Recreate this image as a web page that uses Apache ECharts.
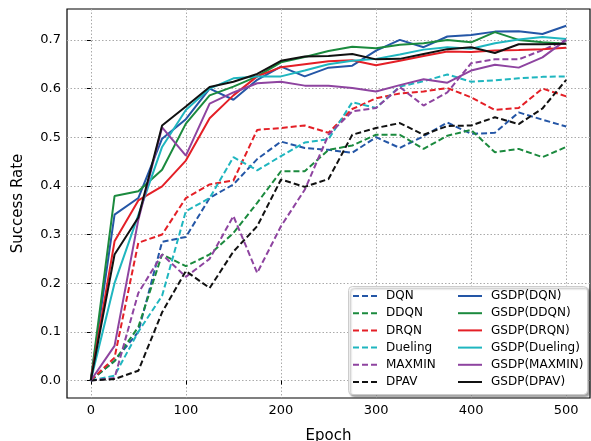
<!DOCTYPE html>
<html><head><meta charset="utf-8">
<script src="https://cdn.jsdelivr.net/npm/echarts@6/dist/echarts.min.js"></script>
<style>html,body{margin:0;padding:0;background:#fff}#c{width:591px;height:441px}</style>
</head><body><div id="c"></div>
<script>
const epochs = [0,25,50,75,100,125,150,175,200,225,250,275,300,325,350,375,400,425,450,475,500];
const xTicks = [0,100,200,300,400,500];
const yTicks = [0,0.1,0.2,0.3,0.4,0.5,0.6,0.7];

const DQN     = [0,0.04,0.10,0.285,0.295,0.375,0.403,0.455,0.491,0.478,0.474,0.468,0.50,0.478,0.502,0.530,0.507,0.509,0.551,0.536,0.522];
const DDQN    = [0,0.04,0.11,0.259,0.235,0.259,0.303,0.365,0.43,0.43,0.474,0.483,0.505,0.505,0.476,0.503,0.515,0.469,0.476,0.459,0.48];
const DRQN    = [0,0.047,0.283,0.30,0.375,0.403,0.411,0.515,0.519,0.524,0.509,0.558,0.58,0.59,0.594,0.601,0.582,0.556,0.56,0.60,0.584];
const Dueling = [0,0.01,0.10,0.174,0.348,0.375,0.459,0.432,0.461,0.489,0.496,0.572,0.56,0.604,0.615,0.629,0.614,0.617,0.621,0.624,0.625];
const MAXMIN  = [0,0.005,0.18,0.259,0.213,0.25,0.338,0.221,0.317,0.392,0.505,0.553,0.56,0.603,0.565,0.592,0.652,0.66,0.66,0.679,0.70];
const DPAV    = [0,0.003,0.02,0.14,0.225,0.19,0.265,0.317,0.413,0.398,0.414,0.505,0.519,0.529,0.505,0.523,0.524,0.541,0.527,0.559,0.618];
const G_DQN     = [0,0.341,0.375,0.497,0.537,0.60,0.577,0.618,0.645,0.625,0.643,0.647,0.678,0.70,0.685,0.707,0.71,0.717,0.718,0.712,0.729];
const G_DDQN    = [0,0.379,0.389,0.433,0.528,0.586,0.604,0.625,0.654,0.665,0.677,0.686,0.683,0.69,0.693,0.70,0.695,0.716,0.70,0.695,0.692];
const G_DRQN    = [0,0.286,0.37,0.399,0.452,0.539,0.586,0.625,0.644,0.65,0.656,0.658,0.648,0.657,0.667,0.676,0.675,0.678,0.679,0.681,0.684];
const G_Dueling = [0,0.20,0.34,0.48,0.556,0.60,0.621,0.625,0.625,0.637,0.65,0.657,0.661,0.67,0.68,0.685,0.682,0.693,0.701,0.706,0.702];
const G_MAXMIN  = [0,0.071,0.33,0.52,0.462,0.569,0.592,0.611,0.614,0.606,0.606,0.601,0.594,0.607,0.619,0.612,0.637,0.649,0.643,0.664,0.70];
const G_DPAV    = [0,0.259,0.335,0.524,0.563,0.603,0.614,0.63,0.657,0.666,0.667,0.671,0.66,0.661,0.671,0.681,0.685,0.673,0.691,0.691,0.692];

const baseNames = ['DQN','DDQN','DRQN','Dueling','MAXMIN','DPAV'];
const gsdpNames = ['GSDP(DQN)','GSDP(DDQN)','GSDP(DRQN)','GSDP(Dueling)','GSDP(MAXMIN)','GSDP(DPAV)'];
const baseValues = [DQN,DDQN,DRQN,Dueling,MAXMIN,DPAV];
const gsdpValues = [G_DQN,G_DDQN,G_DRQN,G_Dueling,G_MAXMIN,G_DPAV];
const colors = ['#2456a6','#1b8a3e','#e41f26','#1fb6bf','#8e44a0','#111111'];

function mk(name, vals, color, dashed){
  return {
    name: name, type: 'line', symbol: 'none', silent: true,
    data: epochs.map((e,i)=>[e, vals[i]]),
    lineStyle: {color: color, width: 2, type: dashed ? [6,3] : 'solid'},
    itemStyle: {color: color}
  };
}
const series = [];
baseNames.forEach((n,i)=>series.push(mk(n, baseValues[i], colors[i], true)));
gsdpNames.forEach((n,i)=>series.push(mk(n, gsdpValues[i], colors[i], false)));

const font = 'DejaVu Sans';
const legendCommon = {
  orient: 'vertical', top: 289, itemWidth: 24, itemHeight: 14, itemGap: 3.2,
  textStyle: {fontFamily: font, fontSize: 12, lineHeight: 14, color: '#000', padding: [0,0,0,4]},
  itemStyle: {color: 'rgba(0,0,0,0)', borderWidth: 0, opacity: 0},
  backgroundColor: 'transparent', padding: 0, selectedMode: false
};

const chart = echarts.init(document.getElementById('c'), null, {renderer: 'canvas'});
chart.setOption({
  animation: false,
  backgroundColor: '#fff',
  grid: {left: 67, top: 9, right: 1, bottom: 43, outerBoundsMode: 'none', containLabel: false, show: true, borderColor: '#000', borderWidth: 1.2, backgroundColor: 'transparent'},
  xAxis: {
    type: 'value', min: -25, max: 525,
    name: 'Epoch', nameLocation: 'middle', nameGap: 31,
    nameTextStyle: {fontFamily: font, fontSize: 15, color: '#000'},
    axisLine: {show: false},
    axisTick: {show: true, inside: false, length: 4, customValues: xTicks, lineStyle: {color: '#000', width: 1}},
    axisLabel: {customValues: xTicks, fontFamily: font, fontSize: 13, color: '#000', margin: 6},
    splitLine: {show: true, lineStyle: {color: '#aaa', type: [1.5,2], width: 1}}
  },
  yAxis: {
    type: 'value', min: -0.036, max: 0.7635,
    name: 'Success Rate', nameLocation: 'middle', nameGap: 41,
    nameTextStyle: {fontFamily: font, fontSize: 15, color: '#000'},
    axisLine: {show: false},
    axisTick: {show: true, inside: false, length: 4, customValues: yTicks, lineStyle: {color: '#000', width: 1}},
    axisLabel: {customValues: yTicks, fontFamily: font, fontSize: 13, color: '#000', margin: 6, formatter: v => v.toFixed(1)},
    splitLine: {show: true, lineStyle: {color: '#aaa', type: [1.5,2], width: 1}}
  },
  graphic: [{
    type: 'rect', z: 3, silent: true,
    shape: {x: 348.5, y: 286.5, width: 239, height: 108, r: 4},
    style: {fill: '#fff', stroke: '#cccccc', lineWidth: 1, shadowColor: 'rgba(0,0,0,0.35)', shadowOffsetX: 2, shadowOffsetY: 2, shadowBlur: 2}
  }],
  legend: [
    Object.assign({}, legendCommon, {left: 352, data: baseNames}),
    Object.assign({}, legendCommon, {left: 457, data: gsdpNames})
  ],
  series: series
});
</script>
</body></html>
